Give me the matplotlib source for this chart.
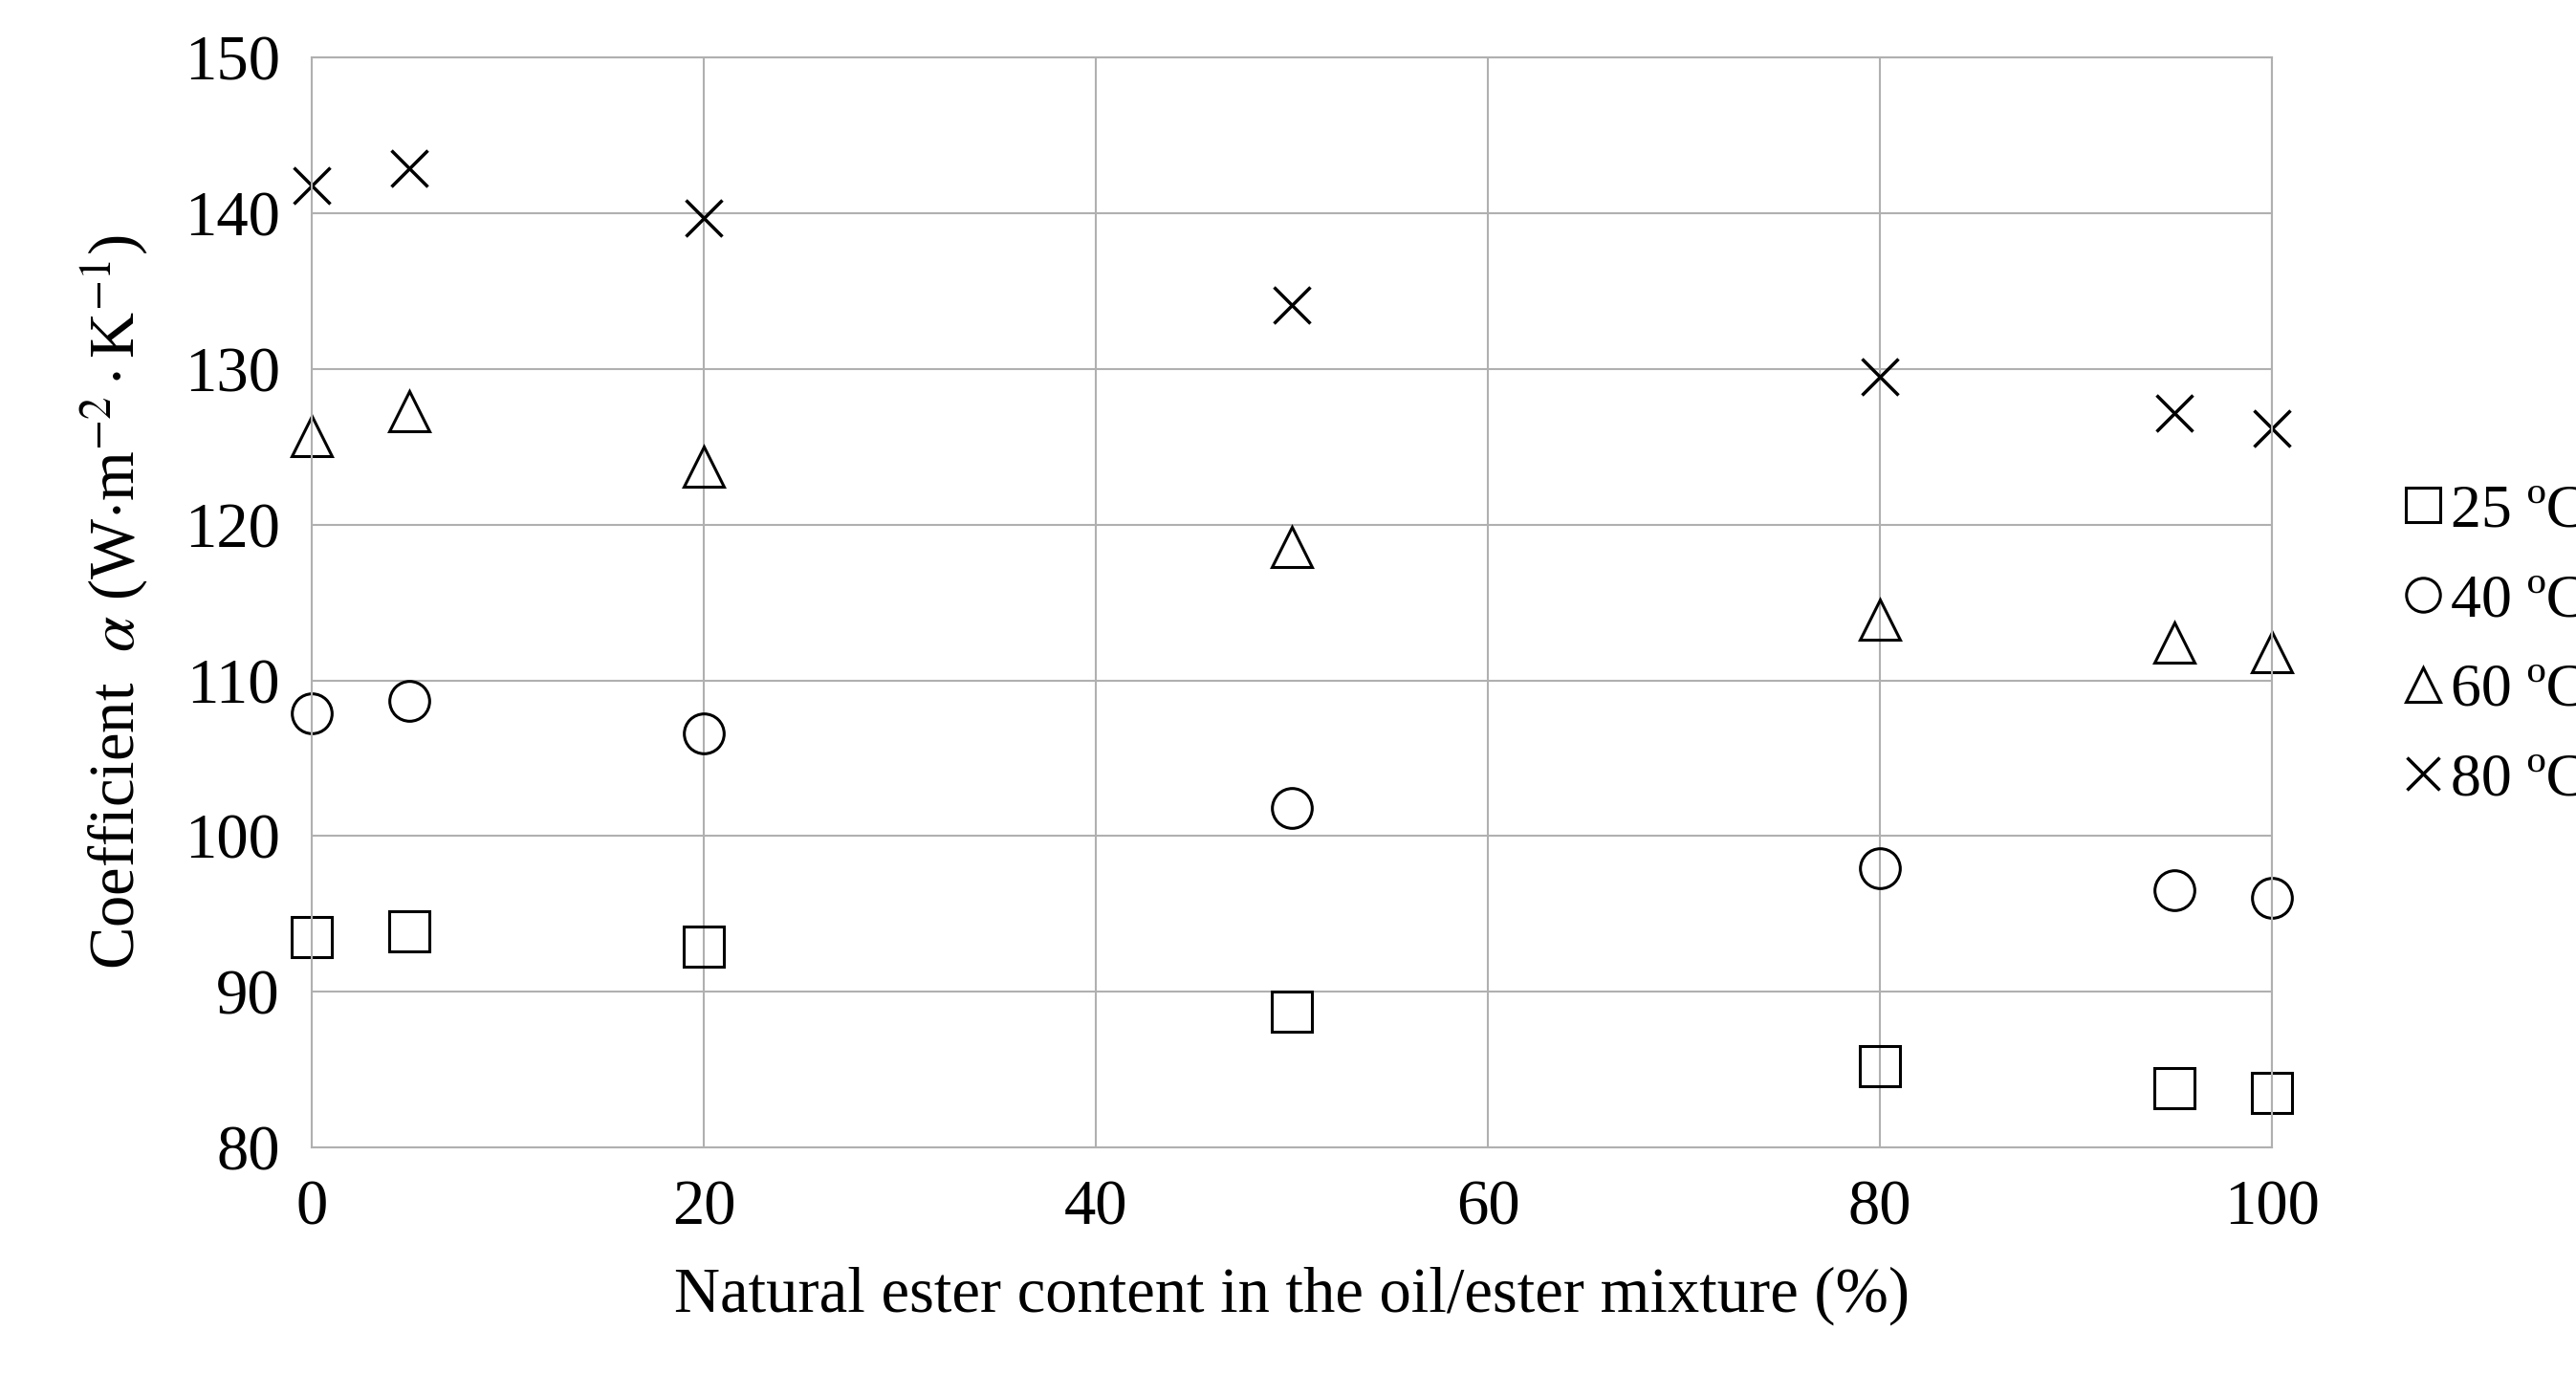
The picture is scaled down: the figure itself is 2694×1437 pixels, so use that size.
import matplotlib
matplotlib.use("Agg")
import matplotlib.pyplot as plt

plt.rcParams['font.family'] = ['Liberation Serif', 'DejaVu Serif']
plt.rcParams['mathtext.fontset'] = 'stix'

x = [0, 5, 20, 50, 80, 95, 100]
s25 = [93.5, 93.9, 92.9, 88.7, 85.2, 83.8, 83.5]
s40 = [107.9, 108.7, 106.6, 101.8, 97.9, 96.5, 96.0]
s60 = [125.7, 127.3, 123.7, 118.6, 113.9, 112.4, 111.8]
s80 = [141.8, 142.9, 139.7, 134.1, 129.5, 127.2, 126.2]
labels = ['25 ºC', '40 ºC', '60 ºC', '80 ºC']

fig = plt.figure(figsize=(26.94, 14.37), dpi=100)
ax = fig.add_axes([0.121, 0.165, 0.761, 0.793])
kw = dict(linestyle='none', markerfacecolor='none', markeredgecolor='black', color='black', clip_on=False)
ax.plot(x, s25, marker='s', markersize=30, markeredgewidth=2.2, label=labels[0], **kw)
ax.plot(x, s40, marker='o', markersize=30, markeredgewidth=2.2, label=labels[1], **kw)
ax.plot(x, s60, marker='^', markersize=30, markeredgewidth=2.2, label=labels[2], **kw)
ax.plot(x, s80, marker='x', markersize=28, markeredgewidth=2.5, label=labels[3], **kw)

ax.set_xlim(0, 100)
ax.set_ylim(80, 150)
ax.set_xticks(range(0, 101, 20))
ax.set_yticks(range(80, 151, 10))
ax.grid(True, color='#b0b0b0', linewidth=1.5)
ax.set_axisbelow(True)
for sp in ax.spines.values():
    sp.set_color('#b0b0b0'); sp.set_linewidth(1.5)
ax.tick_params(length=0, labelsize=48, pad=24)
ax.set_xlabel('Natural ester content in the oil/ester mixture (%)', fontsize=48, labelpad=22)
ax.set_ylabel(r'Coefficient  $\alpha$ (W$\cdot$m$^{-2}\cdot$K$^{-1}$)', fontsize=48, labelpad=26)
leg = ax.legend(loc='center left', bbox_to_anchor=(1.035, 0.46), frameon=False, fontsize=46,
                handletextpad=0.0, handlelength=0.9, labelspacing=0.55, markerscale=0.85)
fig.savefig('out.png', dpi=100)
